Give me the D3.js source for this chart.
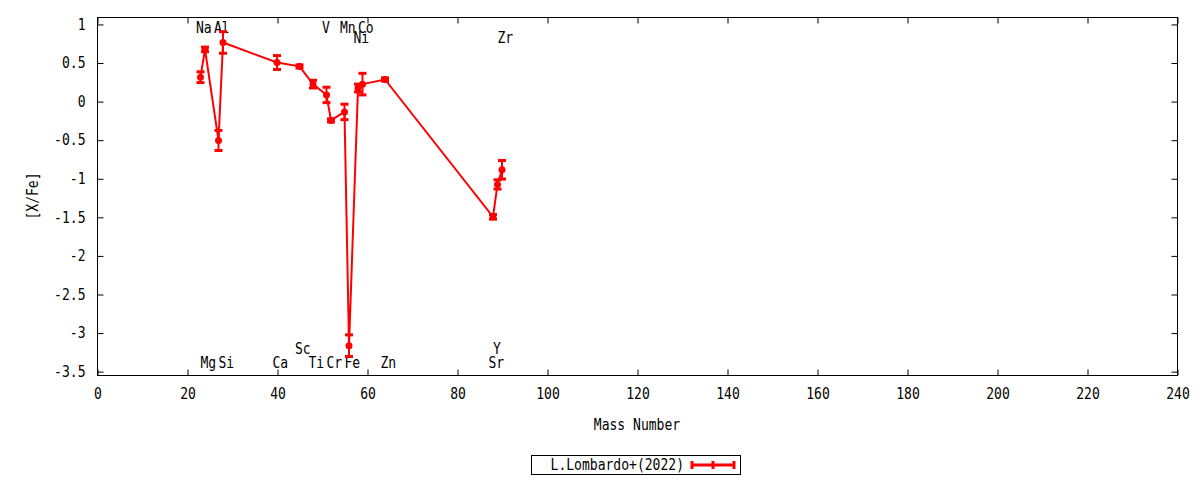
<!DOCTYPE html>
<html>
<head>
<meta charset="utf-8">
<script src="https://cdn.jsdelivr.net/npm/d3@7"></script>
<style>
html,body{margin:0;padding:0;background:#fff;}
svg text{font-family:"DejaVu Sans Mono",monospace;font-size:15px;fill:#000;}
</style>
</head>
<body>
<svg id="chart" width="1200" height="480"></svg>
<script>
// ---- data ----
const elements   = ["Na","Mg","Al","Si","Ca","Sc","Ti","V","Cr","Mn","Fe","Ni","Co","Zn","Sr","Y","Zr"];
const massNumber = [23,24,27,28,40,45,48,51,52,55,56,58,59,64,88,89,90];
const xFe        = [0.31,0.67,-0.51,0.76,0.50,0.45,0.22,0.08,-0.25,-0.14,-3.17,0.17,0.22,0.28,-1.50,-1.08,-0.89];
const xFeErr     = [0.07,0.03,0.13,0.14,0.09,0.02,0.05,0.10,0.02,0.10,0.14,0.05,0.14,0.02,0.03,0.06,0.12];
// label row positions ([X/Fe] value where element name is written)
const labelY     = [0.95,-3.39,0.95,-3.39,-3.39,-3.21,-3.39,0.95,-3.39,0.95,-3.39,0.82,0.95,-3.39,-3.39,-3.21,0.82];
const xTicks     = [0,20,40,60,80,100,120,140,160,180,200,220,240];
const yTicks     = [1,0.5,0,-0.5,-1,-1.5,-2,-2.5,-3,-3.5];
const seriesName = "L.Lombardo+(2022)";
const xTitle     = "Mass Number";
const yTitle     = "[X/Fe]";

// ---- layout ----
const L = 97, R = 1177, T = 17, B = 375;
const SX = 0.87; // narrow glyphs
const red = "#ff0000";
const svg = d3.select("#chart");
const x = d3.scaleLinear().domain([0,240]).range([L,R]);
const y = d3.scaleLinear().domain([-3.55,1.09]).range([B,T]);

const pts = massNumber.map((m,i)=>({m, v:xFe[i], e:xFeErr[i], name:elements[i], ly:labelY[i]}));

function txt(g, px, py, s, anchor, rot){
  const t = g.append("text")
    .attr("transform",`translate(${px},${py})${rot?` rotate(${rot})`:""} scale(${SX},1)`)
    .attr("dy","0.35em").text(s);
  if(anchor) t.attr("text-anchor",anchor);
  return t;
}

// frame
svg.append("rect").attr("x",L+0.5).attr("y",T+0.5).attr("width",R-L).attr("height",B-T)
  .attr("fill","none").attr("stroke","#000").attr("stroke-width",1);

// axes (inward ticks)
const fmt = d => String(d);
const gx = svg.append("g").attr("transform",`translate(0.5,${B+0.5})`)
  .call(d3.axisBottom(x).tickValues(xTicks).tickFormat(fmt).tickSizeInner(-6).tickSizeOuter(0).tickPadding(13));
const gxt = svg.append("g").attr("transform",`translate(0.5,${T+0.5})`)
  .call(d3.axisTop(x).tickValues(xTicks).tickFormat("").tickSizeInner(-6).tickSizeOuter(0));
const gy = svg.append("g").attr("transform",`translate(${L+0.5},0.5)`)
  .call(d3.axisLeft(y).tickValues(yTicks).tickFormat(fmt).tickSizeInner(-6).tickSizeOuter(0).tickPadding(12));
const gyr = svg.append("g").attr("transform",`translate(${R+0.5},0.5)`)
  .call(d3.axisRight(y).tickValues(yTicks).tickFormat("").tickSizeInner(-6).tickSizeOuter(0));
[gx,gxt,gy,gyr].forEach(g=>{
  g.select(".domain").remove();
  g.selectAll(".tick line").attr("stroke","#000");
  g.selectAll("text").attr("font-family",null).attr("font-size",null).attr("fill","#000");
  g.attr("font-family",null).attr("font-size",null);
});
gx.selectAll("text").attr("transform",`scale(${SX},1)`);
gy.selectAll("text").attr("x",-12/SX).attr("transform",`scale(${SX},1)`);

// axis titles
txt(svg, (L+R)/2, 425, xTitle, "middle");
txt(svg, 33, 196, yTitle, "middle", -90);

// element labels (left aligned at mass-1)
const lab = svg.append("g");
pts.forEach(d=>txt(lab, x(d.m-1), y(d.ly), d.name));

// connecting line
const line = d3.line().x(d=>x(d.m)).y(d=>y(d.v));
svg.append("path").datum(pts).attr("d",line).attr("fill","none").attr("stroke",red).attr("stroke-width",2);

// error bars
const eb = svg.append("g").attr("stroke",red).attr("fill",red);
const capW = 4;
pts.forEach(d=>{
  const cx = x(d.m), y0 = y(d.v - d.e), y1 = y(d.v + d.e);
  eb.append("line").attr("x1",cx).attr("x2",cx).attr("y1",y0).attr("y2",y1).attr("stroke-width",2);
  eb.append("line").attr("x1",cx-capW).attr("x2",cx+capW).attr("y1",y0).attr("y2",y0).attr("stroke-width",3);
  eb.append("line").attr("x1",cx-capW).attr("x2",cx+capW).attr("y1",y1).attr("y2",y1).attr("stroke-width",3);
  eb.append("circle").attr("cx",cx).attr("cy",y(d.v)).attr("r",3.5).attr("stroke","none");
});

// legend
const lg = svg.append("g");
lg.append("rect").attr("x",531.5).attr("y",455.5).attr("width",209).attr("height",19)
  .attr("fill","#fff").attr("stroke","#000").attr("stroke-width",1);
txt(lg, 684, 465, seriesName, "end");
const lx0 = 692, lx1 = 734, lyy = 465;
lg.append("line").attr("x1",lx0).attr("x2",lx1).attr("y1",lyy).attr("y2",lyy).attr("stroke",red).attr("stroke-width",3);
[lx0,lx1].forEach(xx=>lg.append("line").attr("x1",xx).attr("x2",xx).attr("y1",lyy-4).attr("y2",lyy+4).attr("stroke",red).attr("stroke-width",3));
lg.append("line").attr("x1",713).attr("x2",713).attr("y1",lyy-4).attr("y2",lyy+4).attr("stroke",red).attr("stroke-width",3);
</script>
</body>
</html>
